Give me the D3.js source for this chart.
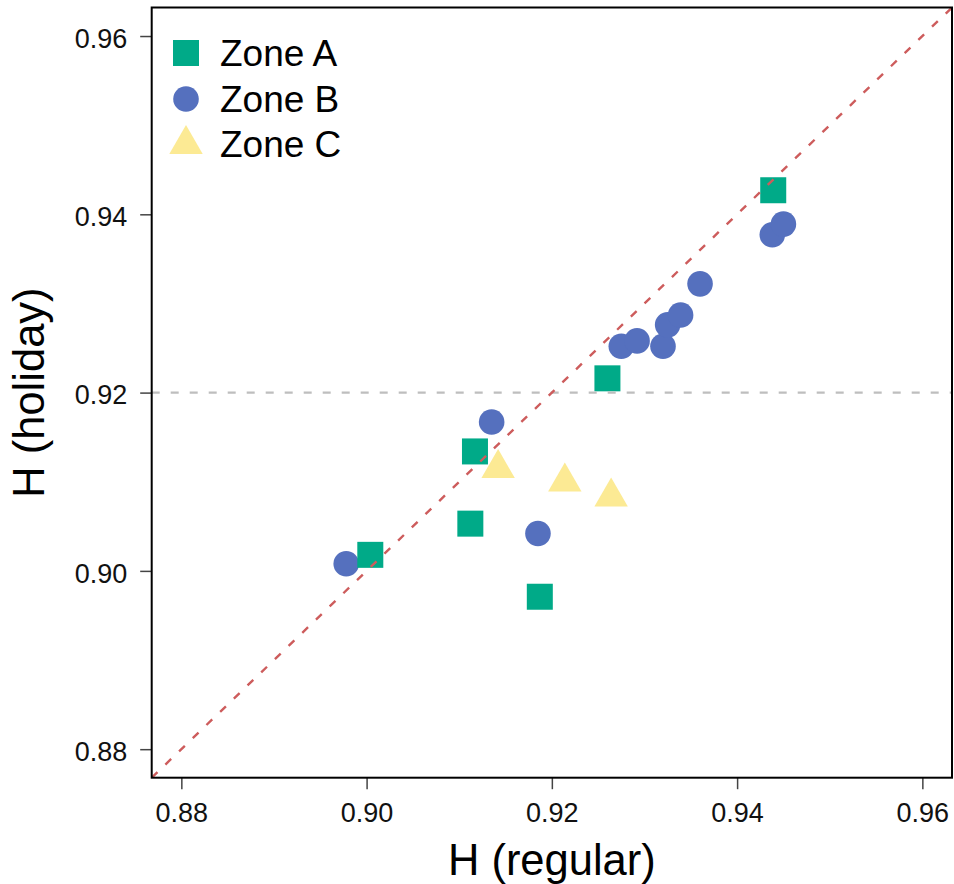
<!DOCTYPE html>
<html>
<head>
<meta charset="utf-8">
<script src="https://cdn.jsdelivr.net/npm/d3@7/dist/d3.min.js"></script>
<style>
  html, body { margin: 0; padding: 0; background: #fff; }
  svg { display: block; font-family: "Liberation Sans", Arial, Helvetica, sans-serif; }
</style>
</head>
<body>
<svg id="chart" width="954" height="884"></svg>
<script>
// Zone A (squares)
const zoneA_regular = [0.9004, 0.9112, 0.9117, 0.9187, 0.9260, 0.9439];
const zoneA_holiday = [0.9018, 0.9053, 0.9134, 0.8971, 0.9216, 0.9427];
// Zone B (circles)
const zoneB_regular = [0.8978, 0.9135, 0.9185, 0.9275, 0.9292, 0.9320, 0.9325, 0.9339, 0.9360, 0.9438, 0.9450];
const zoneB_holiday = [0.9008, 0.9167, 0.9042, 0.9252, 0.9258, 0.9252, 0.9276, 0.9287, 0.9322, 0.9377, 0.9389];
// Zone C (triangles)
const zoneC_regular = [0.9142, 0.9214, 0.9264];
const zoneC_holiday = [0.9115, 0.9100, 0.9083];

const tickValues = [0.88, 0.90, 0.92, 0.94, 0.96];
const axisLimits = [0.8768, 0.9632];
const referenceLevel = 0.92;
const zoneNames = ["Zone A", "Zone B", "Zone C"];
const zoneColors = ["#00AA88", "#5570BE", "#FCEA94"];

const svg = d3.select("#chart");
const plot = { left: 151.7, right: 952, top: 7.5, bottom: 777.7 };

const x = d3.scaleLinear().domain(axisLimits).range([plot.left, plot.right]);
const y = d3.scaleLinear().domain(axisLimits).range([plot.bottom, plot.top]);

svg.append("defs").append("clipPath").attr("id", "plotClip")
  .append("rect")
  .attr("x", plot.left).attr("y", plot.top)
  .attr("width", plot.right - plot.left).attr("height", plot.bottom - plot.top);

const pts = (xs, ys) => xs.map((v, i) => ({ x: v, y: ys[i] }));

const marks = svg.append("g").attr("clip-path", "url(#plotClip)");

// Zone B circles
marks.selectAll("circle.b").data(pts(zoneB_regular, zoneB_holiday)).join("circle")
  .attr("class", "b")
  .attr("cx", d => x(d.x)).attr("cy", d => y(d.y)).attr("r", 12.8)
  .attr("fill", zoneColors[1]);

// Zone A squares
const sq = 26;
marks.selectAll("rect.a").data(pts(zoneA_regular, zoneA_holiday)).join("rect")
  .attr("class", "a")
  .attr("x", d => x(d.x) - sq / 2).attr("y", d => y(d.y) - sq / 2)
  .attr("width", sq).attr("height", sq)
  .attr("fill", zoneColors[0]);

// Zone C triangles (centred on the point, apex above)
const tr = 19.3;
const triPath = (cx, cy) => {
  const hx = tr * Math.sqrt(3) / 2;
  return `M${cx},${cy - tr}L${cx + hx},${cy + tr / 2}L${cx - hx},${cy + tr / 2}Z`;
};
marks.selectAll("path.c").data(pts(zoneC_regular, zoneC_holiday)).join("path")
  .attr("class", "c")
  .attr("d", d => triPath(x(d.x), y(d.y)))
  .attr("fill", zoneColors[2]);

// Horizontal reference level
marks.append("line")
  .attr("x1", x(axisLimits[0])).attr("x2", x(axisLimits[1]))
  .attr("y1", y(referenceLevel)).attr("y2", y(referenceLevel))
  .attr("stroke", "#BEBEBE").attr("stroke-width", 2.4)
  .attr("stroke-dasharray", "8,11");

// Identity line y = x
marks.append("line")
  .attr("x1", x(axisLimits[0])).attr("y1", y(axisLimits[0]))
  .attr("x2", x(axisLimits[1])).attr("y2", y(axisLimits[1]))
  .attr("stroke", "#CD5C5C").attr("stroke-width", 2.4)
  .attr("stroke-dasharray", "8,11");

// Axes
const fmt = d3.format(".2f");
const xAxis = svg.append("g")
  .attr("transform", `translate(0,${plot.bottom})`)
  .call(d3.axisBottom(x).tickValues(tickValues).tickFormat(fmt).tickSize(11.5).tickSizeOuter(0).tickPadding(12));
const yAxis = svg.append("g")
  .attr("transform", `translate(${plot.left},0)`)
  .call(d3.axisLeft(y).tickValues(tickValues).tickFormat(fmt).tickSize(11.5).tickSizeOuter(0).tickPadding(13));

[xAxis, yAxis].forEach(g => {
  g.select(".domain").remove();
  g.selectAll(".tick line").attr("stroke", "#444").attr("stroke-width", 1.5);
  g.selectAll(".tick text")
    .attr("fill", "#111")
    .style("font-size", "27px")
    .style("font-family", "'Liberation Sans', Arial, Helvetica, sans-serif");
});
yAxis.selectAll(".tick text").attr("dy", "0.42em");
xAxis.selectAll(".tick text").attr("dy", "0.78em");

// Frame
svg.append("rect")
  .attr("x", plot.left).attr("y", plot.top)
  .attr("width", plot.right - plot.left).attr("height", plot.bottom - plot.top)
  .attr("fill", "none").attr("stroke", "#000").attr("stroke-width", 2);

// Axis titles
svg.append("text")
  .attr("x", (plot.left + plot.right) / 2).attr("y", 875)
  .attr("text-anchor", "middle")
  .style("font-size", "43.5px").attr("fill", "#000")
  .text("H (regular)");

svg.append("text")
  .attr("transform", `translate(43.5,${(plot.top + plot.bottom) / 2}) rotate(-90)`)
  .attr("text-anchor", "middle")
  .style("font-size", "43.5px").attr("fill", "#000")
  .text("H (holiday)");

// Legend
const legend = svg.append("g");
const legendRows = [53, 99, 144.3];
legend.append("rect")
  .attr("x", 186 - sq / 2).attr("y", legendRows[0] - sq / 2)
  .attr("width", sq).attr("height", sq).attr("fill", zoneColors[0]);
legend.append("circle")
  .attr("cx", 186).attr("cy", legendRows[1]).attr("r", 12.8).attr("fill", zoneColors[1]);
legend.append("path")
  .attr("d", triPath(186, legendRows[2])).attr("fill", zoneColors[2]);
legend.selectAll("text").data(zoneNames).join("text")
  .attr("x", 220).attr("y", (d, i) => legendRows[i] + 12.8)
  .style("font-size", "37px").attr("fill", "#000")
  .text(d => d);
</script>
</body>
</html>
